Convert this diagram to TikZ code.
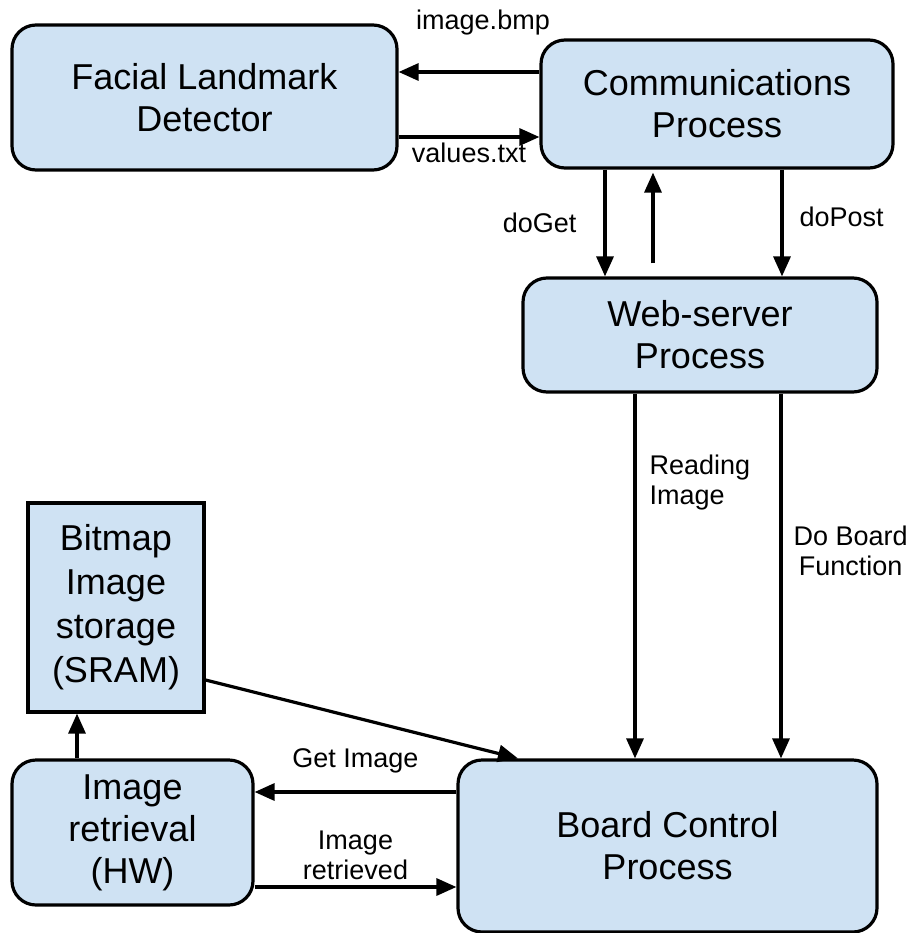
\documentclass[tikz,border=0pt]{standalone}
\usepackage{fontspec}
\setmainfont{Liberation Sans}
\usetikzlibrary{arrows.meta,positioning,calc}

\definecolor{boxblue}{HTML}{CFE2F3}

\begin{document}
\begin{tikzpicture}[
        x=1pt, y=-1pt,
        proc/.style={draw, rounded corners=24pt, fill=boxblue, line width=3.2pt, align=center, inner sep=0pt, font=\fontsize{36}{42}\selectfont},
        store/.style={draw, rectangle, fill=boxblue, line width=3.2pt, align=center, inner sep=0pt, font=\fontsize{36}{44}\selectfont},
        arr/.style={line width=3.2pt, -{Triangle[length=20pt,width=17pt]}},
        lbl/.style={font=\fontsize{27}{30}\selectfont, align=center, inner sep=0pt}
    ]
    \useasboundingbox (0,0) rectangle (918,933);

    % boxes
    \node[proc, minimum width=385pt, minimum height=145pt] (fld) at (204.5,97.5) {Facial Landmark\\Detector};
    \node[proc, minimum width=352pt, minimum height=128pt] (comm) at (717,104) {Communications\\Process};
    \node[proc, minimum width=354pt, minimum height=114pt] (web) at (700,335) {Web-server\\Process};
    \node[store, minimum width=176pt, minimum height=209pt] (bitmap) at (116,607.5) {Bitmap\\Image\\storage\\(SRAM)};
    \node[proc, minimum width=241pt, minimum height=145pt] (imgret) at (132.5,832.5) {Image\\retrieval\\(HW)};
    \node[proc, minimum width=419pt, minimum height=172pt] (board) at (667.5,846) {Board Control\\Process};

    % communications <-> detector
    \draw[arr] ([yshift=32pt]comm.west) -- ([yshift=32pt]comm.west -| fld.east)
        node[lbl, midway, above=35pt, xshift=14pt] {image.bmp};
    \draw[arr] ([yshift=-33pt]comm.west -| fld.east) -- ([yshift=-33pt]comm.west)
        node[lbl, midway, below=4pt] {values.txt};

    % communications <-> web-server
    \draw[arr] ([xshift=-112pt]comm.south) -- ([xshift=-112pt]comm.south |- web.north)
        node[lbl, midway, left=27pt] {doGet};
    \draw[arr, shorten <=13pt, shorten >=3pt] ([xshift=-64pt]comm.south |- web.north) -- ([xshift=-64pt]comm.south);
    \draw[arr] ([xshift=65pt]comm.south) -- ([xshift=65pt]comm.south |- web.north)
        node[lbl, midway, right=16pt, yshift=6pt] {doPost};

    % web-server -> board
    \draw[arr] ([xshift=-65pt]web.south) -- ([xshift=-65pt]web.south |- board.north)
        node[lbl, pos=0.163, anchor=north west, xshift=13pt, align=left] {Reading\\Image};
    \draw[arr] ([xshift=81pt]web.south) -- ([xshift=81pt]web.south |- board.north)
        node[lbl, pos=0.43, right=11pt] {Do Board\\Function};

    % storage side
    \draw[arr] ([yshift=-72.5pt]bitmap.east) -- ([xshift=-149.5pt]board.north);
    \draw[arr] ([yshift=54pt]board.west) -- ([yshift=54pt]board.west -| imgret.east)
        node[lbl, midway, above=17pt] {Get Image};
    \draw[arr] ([yshift=-41pt]board.west -| imgret.east) -- ([yshift=-41pt]board.west)
        node[lbl, midway, above=6pt] {Image\\retrieved};
    \draw[arr] ([xshift=-55.5pt]imgret.north) -- ([xshift=-55.5pt]imgret.north |- bitmap.south);
\end{tikzpicture}
\end{document}
